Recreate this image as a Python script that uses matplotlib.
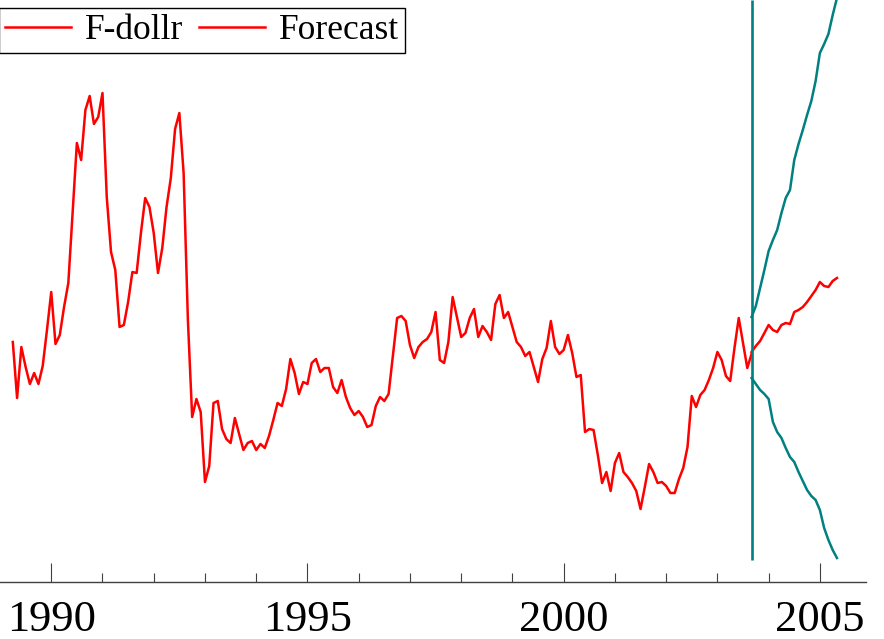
import numpy as np
import matplotlib.pyplot as plt

plt.rcParams['font.family'] = ['Liberation Serif', 'DejaVu Serif']

# monthly series, April 1989 - September 2003
start_year, start_month = 1989, 4
dollr = [2.58, 2.02, 2.53, 2.33, 2.16, 2.27, 2.16, 2.34, 2.70, 3.08,
         2.56, 2.65, 2.93, 3.17, 3.87, 4.57, 4.40, 4.90, 5.04, 4.76,
         4.83, 5.07, 4.03, 3.48, 3.30, 2.73, 2.75, 2.98, 3.28, 3.27,
         3.67, 4.02, 3.93, 3.67, 3.27, 3.52, 3.93, 4.22, 4.71, 4.87,
         4.27, 2.80, 1.83, 2.01, 1.88, 1.18, 1.34, 1.97, 1.99, 1.71,
         1.61, 1.57, 1.82, 1.66, 1.50, 1.57, 1.59, 1.50, 1.56, 1.52,
         1.64, 1.80, 1.97, 1.94, 2.11, 2.41, 2.27, 2.06, 2.18, 2.16,
         2.37, 2.41, 2.28, 2.32, 2.32, 2.13, 2.07, 2.20, 2.03, 1.92,
         1.85, 1.89, 1.83, 1.73, 1.75, 1.94, 2.03, 1.99, 2.06, 2.44,
         2.82, 2.84, 2.79, 2.55, 2.42, 2.53, 2.58, 2.61, 2.68, 2.88,
         2.40, 2.37, 2.58, 3.03, 2.83, 2.63, 2.67, 2.82, 2.91, 2.63,
         2.74, 2.68, 2.60, 2.96, 3.05, 2.82, 2.88, 2.73, 2.58, 2.53,
         2.44, 2.48, 2.33, 2.18, 2.41, 2.52, 2.79, 2.53, 2.46, 2.50,
         2.65, 2.47, 2.23, 2.25, 1.68, 1.71, 1.70, 1.45, 1.17, 1.28,
         1.09, 1.37, 1.47, 1.28, 1.23, 1.17, 1.09, 0.91, 1.13, 1.36,
         1.28, 1.17, 1.18, 1.14, 1.07, 1.07, 1.21, 1.32, 1.53, 2.04,
         1.93, 2.05, 2.10, 2.20, 2.32, 2.48, 2.40, 2.24, 2.19, 2.52,
         2.82, 2.57, 2.32, 2.46]

# forecasts from September 2003 with +/- 2 s.e. bands
forecast = [2.48, 2.54, 2.59, 2.67, 2.75, 2.70, 2.68, 2.75, 2.77, 2.76,
            2.88, 2.90, 2.93, 2.98, 3.04, 3.10, 3.18, 3.14, 3.13, 3.19,
            3.22]
upper = [2.83, 2.94, 3.12, 3.30, 3.49, 3.60, 3.70, 3.87, 4.02, 4.10,
         4.40, 4.56, 4.70, 4.85, 4.99, 5.19, 5.47, 5.56, 5.66, 5.85,
         6.02]
lower = [2.22, 2.16, 2.10, 2.06, 2.01, 1.78, 1.68, 1.62, 1.52, 1.43,
         1.38, 1.28, 1.19, 1.10, 1.04, 1.00, 0.90, 0.72, 0.60, 0.50,
         0.42]

t = start_year + (start_month - 1 + np.arange(len(dollr))) / 12
tf = t[-1] + np.arange(len(forecast)) / 12

teal = '#008080'

fig = plt.figure(figsize=(8.84, 6.39), dpi=100)
ax = fig.add_axes([0, 57/639, 866/884, 582/639])

ax.plot(t, dollr, color='red', lw=1.8, label='F-dollr')
ax.plot(tf, forecast, color='red', lw=1.8, label='Forecast')
ax.plot(tf, upper, color=teal, lw=1.8)
ax.plot(tf, lower, color=teal, lw=1.8)

ax.set_xlim(1989.0, 2005.9)
ax.set_ylim(0.18, 6.0)
ax.vlines(t[-1], min(lower) - 0.02, 6.0, color=teal, lw=1.9, zorder=3)

for s in ['top', 'left', 'right']:
    ax.spines[s].set_visible(False)
ax.spines['bottom'].set_color('#404040')
ax.spines['bottom'].set_linewidth(1)

ax.set_yticks([])
ax.set_xticks([1990, 1995, 2000, 2005])
ax.set_xticks(np.arange(1990, 2006), minor=True)
ax.tick_params(axis='x', which='major', direction='in', length=14, width=0.8,
               color='#404040', labelsize=32, pad=13)
ax.tick_params(axis='x', which='minor', direction='in', length=6.5, width=0.8,
               color='#404040')

ax.legend(ncol=2, loc='upper left', bbox_to_anchor=(-1/884, 1 - 8/639),
          bbox_transform=fig.transFigure, fontsize=25.5, frameon=True,
          fancybox=False, edgecolor='black', framealpha=1,
          handlelength=1.85, handletextpad=0.4, columnspacing=0.45,
          borderpad=0.17, borderaxespad=0)
ax.get_legend().get_frame().set_linewidth(1)

plt.savefig("out.png", dpi=100)
